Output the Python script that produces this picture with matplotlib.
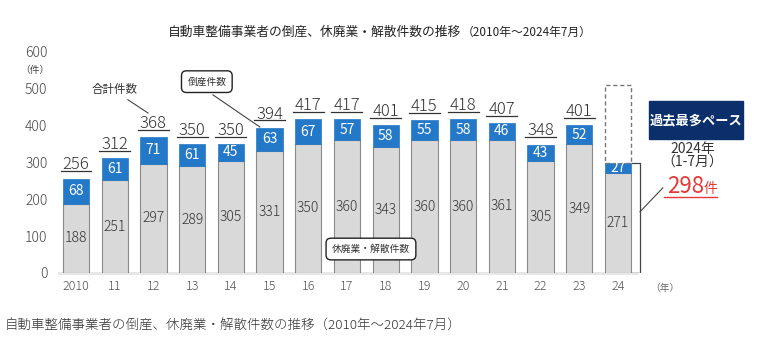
import matplotlib
matplotlib.use("Agg")
import matplotlib.pyplot as plt
from matplotlib.patches import Rectangle

plt.rcParams['font.family'] = ['Noto Sans CJK JP', 'DejaVu Sans']

years = ["2010", "11", "12", "13", "14", "15", "16", "17", "18", "19", "20", "21", "22", "23", "24"]
closures = [188, 251, 297, 289, 305, 331, 350, 360, 343, 360, 360, 361, 305, 349, 271]
bankrupt = [68, 61, 71, 61, 45, 63, 67, 57, 58, 55, 58, 46, 43, 52, 27]
pace_2024 = 511  # full-year pace projection (dashed box)

GRAY = "#d9d9d9"
BLUE = "#2378c8"
NAVY = "#0b2f6b"
RED = "#e53935"
TXT = "#333333"

fig = plt.figure(figsize=(7.63, 3.44), dpi=100)
ax = fig.add_axes([60 / 763, 71 / 344, 700 / 763, 233 / 344])
ax.set_xlim(-0.413, 17.67)
ax.set_ylim(0, 632)
for s in ax.spines.values():
    s.set_visible(False)

x = list(range(len(years)))
w = 0.68
totals = [c + b for c, b in zip(closures, bankrupt)]

ax.bar(x, closures, w, color=GRAY, edgecolor="#8a8a8a", linewidth=0.8, zorder=2)
ax.bar(x, bankrupt, w, bottom=closures, color=BLUE, edgecolor=BLUE, linewidth=0.5, zorder=2)
ax.plot([-0.45, 14.5], [0, 0], color="#e6e6e6", lw=2, zorder=1, clip_on=False)

# dashed projection box for 2024
last = len(years) - 1
ax.add_patch(Rectangle((last - w / 2, totals[last]), w, pace_2024 - totals[last],
                       fill=False, edgecolor="#777777", lw=1, ls=(0, (3, 2)), zorder=3))

for i in x:
    ax.text(i, closures[i] / 2, str(closures[i]), ha="center", va="center",
            fontsize=10, color=TXT, fontweight="light", zorder=4)
    ax.text(i, closures[i] + bankrupt[i] / 2, str(bankrupt[i]), ha="center", va="center",
            fontsize=10, color="white", zorder=4)
    if i < last:
        ax.text(i, totals[i] + 25, str(totals[i]), ha="center", va="baseline",
                fontsize=12, color=TXT, fontweight="light")
        ax.plot([i - 0.40, i + 0.40], [totals[i] + 20] * 2, color=TXT, lw=0.9)

# axes ticks
ax.set_yticks(range(0, 601, 100))
ax.set_yticklabels([str(v) for v in range(0, 601, 100)], fontsize=10, color="#444444",
                   fontweight="light")
ax.set_xticks(x)
ax.set_xticklabels(years, fontsize=9, color="#555555", fontweight="light")
ax.tick_params(axis="y", length=0, pad=9)
ax.tick_params(axis="x", length=0, pad=5)
ax.text(-1.06, 551, "（件）", ha="center", va="center", fontsize=7, color="#444444", clip_on=False)
ax.text(14.83, -42, "（年）", ha="left", va="center", fontsize=7, color="#666666", clip_on=False)

# callouts
ax.text(1.0, 497, "合計件数", ha="center", va="center", fontsize=8.3, color=TXT)
ax.plot([1.34, 1.86], [470, 434], color="#444444", lw=0.8)
box = dict(boxstyle="round,pad=0.6,rounding_size=0.5", fc="white", ec="#222222", lw=1)
ax.text(3.38, 519, "倒産件数", ha="center", va="center", fontsize=7, color=TXT, bbox=box)
ax.plot([3.54, 4.75], [483, 396], color="#444444", lw=0.8)
ax.text(7.62, 65, "休廃業・解散件数", ha="center", va="center", fontsize=7, color=TXT,
        bbox=box, zorder=5)

# bracket for 2024
ax.plot([14.36, 14.57, 14.57, 14.36], [totals[last], totals[last], 0, 0], color="#444444", lw=0.9)
ax.plot([14.57, 15.16], [166, 231], color="#444444", lw=0.8)

ax.add_patch(Rectangle((14.80, 364), 2.43, 103, color=NAVY, clip_on=False, zorder=3))
ax.text(16.02, 415, "過去最多ペース", ha="center", va="center", fontsize=9.5,
        color="white", fontweight="bold", zorder=4)
ax.text(15.94, 336, "2024年", ha="center", va="center", fontsize=10, color=TXT)
ax.text(15.91, 298, "（1-7月）", ha="center", va="center", fontsize=10, color=TXT)
ax.text(15.26, 218, str(totals[last]), ha="left", va="baseline", fontsize=16, color=RED)
ax.text(16.20, 218, "件", ha="left", va="baseline", fontsize=10, color=RED)
ax.plot([15.2, 16.55], [207, 207], color=RED, lw=1)

fig.text(168 / 763, 1 - 32 / 344, "自動車整備事業者の倒産、休廃業・解散件数の推移",
         ha="left", va="center", fontsize=9.2, color="#222222")
fig.text(462 / 763, 1 - 32 / 344, "（2010年～2024年7月）",
         ha="left", va="center", fontsize=8.5, color="#222222")
fig.text(5 / 763, 1 - 325 / 344, "自動車整備事業者の倒産、休廃業・解散件数の推移（2010年～2024年7月）",
         ha="left", va="center", fontsize=9.7, color="#333333", fontweight="light")

fig.savefig("out.png", dpi=100)
